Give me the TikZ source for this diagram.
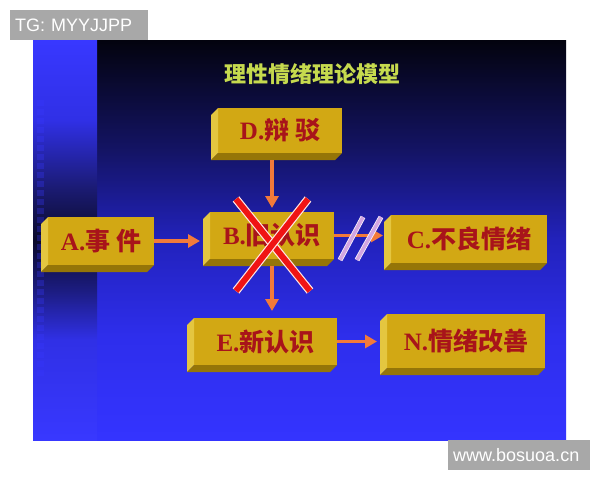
\documentclass[tikz,border=0pt]{standalone}
\usepackage{fontspec}
\setmainfont{Liberation Serif}
\newfontfamily\cjk{Noto Sans CJK SC}
\newfontfamily\wmfont{Liberation Sans}
\usetikzlibrary{arrows.meta}

\definecolor{gold}{HTML}{D2A814}
\definecolor{goldlight}{HTML}{E4C640}
\definecolor{golddark}{HTML}{957508}
\definecolor{txtred}{HTML}{A8141A}
\definecolor{arrorange}{HTML}{F27A3A}
\definecolor{titlegreen}{HTML}{C6DA4E}
\definecolor{wmgray}{HTML}{A8A8A8}
\definecolor{slashpink}{HTML}{D2A6E2}
\definecolor{xred}{HTML}{F01414}
\definecolor{bgbot}{HTML}{3434FF}
\definecolor{bgmida}{HTML}{2E2EEC}
\definecolor{bgmidb}{HTML}{2222BC}
\definecolor{bgmidc}{HTML}{141466}
\definecolor{bgtop}{HTML}{03030E}
\definecolor{stripa}{HTML}{3838FF}
\definecolor{stripb}{HTML}{3030E6}
\definecolor{stripc}{HTML}{1C1C80}
\definecolor{stripd}{HTML}{0A0A2A}
\definecolor{stripe}{HTML}{1A1A70}

\pgfdeclareverticalshading{slidemain}{100bp}{color(0bp)=(bgbot); color(25bp)=(bgbot); color(38bp)=(bgmida); color(50bp)=(bgmidb); color(61bp)=(bgmidc); color(75bp)=(bgtop); color(100bp)=(bgtop)}
\pgfdeclareverticalshading{slidestrip}{100bp}{color(0bp)=(stripa); color(25bp)=(stripa); color(37.5bp)=(stripb); color(43.75bp)=(stripc); color(50bp)=(stripd); color(56.25bp)=(stripe); color(65bp)=(stripb); color(75bp)=(stripa); color(100bp)=(stripa)}

\begin{document}
\begin{tikzpicture}[x=1pt,y=-1pt,
  box/.style={fill=gold,inner sep=0pt,outer sep=0pt,text=txtred,
    font=\fontsize{25}{25}\selectfont\bfseries},
  arr/.style={draw=arrorange,line width=3.5pt,-{Triangle[length=12pt,width=13pt]}},
  xmark/.style={draw=pink!40!white,line width=1.2pt,double=xred,double distance=6pt},
  slash/.style={draw=white!85!slashpink,line width=0.8pt,double=slashpink,double distance=3.5pt},
  wm/.style={fill=wmgray,text=white,inner xsep=5pt,inner ysep=0pt,minimum height=30pt,
    font=\wmfont\fontsize{18}{18}\selectfont}]
\useasboundingbox (0,0) rectangle (600,480);
\fill[white] (0,0) rectangle (600,480);

\shade[shading=slidemain] (33,40) rectangle (566,440);
\shade[shading=slidestrip] (33,40) rectangle (97,440);
\foreach \y in {100,109,...,370}
  \fill[stripa,opacity=0.3] (37,\y) rectangle ++(7,6);

\node[text=titlegreen,font=\cjk\fontsize{22}{22}\selectfont\bfseries] (title) at (312,74) {理性情绪理论模型};

\node[box,minimum width=124pt,minimum height=45pt] (D) at (280,130.5) {D.\cjk 辩 驳};
\node[box,minimum width=106pt,minimum height=48pt] (A) at (101,241) {A.\cjk 事 件};
\node[box,minimum width=124pt,minimum height=47pt] (B) at (272,235.5) {B.\cjk 旧认识};
\node[box,minimum width=156pt,minimum height=48pt] (C) at (469,239) {C.\cjk 不良情绪};
\node[box,minimum width=143pt,minimum height=47pt] (E) at (265.5,341.5) {E.\cjk 新认识};
\node[box,minimum width=158pt,minimum height=54pt] (N) at (466,341) {N.\cjk 情绪改善};

\fill[goldlight] (D.north west) -- ++(-7,7) -- ([shift={(-7,7)}]D.south west) -- (D.south west) -- cycle;
\fill[golddark] (D.south west) -- ++(-7,7) -- ([shift={(-7,7)}]D.south east) -- (D.south east) -- cycle;
\fill[goldlight] (A.north west) -- ++(-7,7) -- ([shift={(-7,7)}]A.south west) -- (A.south west) -- cycle;
\fill[golddark] (A.south west) -- ++(-7,7) -- ([shift={(-7,7)}]A.south east) -- (A.south east) -- cycle;
\fill[goldlight] (B.north west) -- ++(-7,7) -- ([shift={(-7,7)}]B.south west) -- (B.south west) -- cycle;
\fill[golddark] (B.south west) -- ++(-7,7) -- ([shift={(-7,7)}]B.south east) -- (B.south east) -- cycle;
\fill[goldlight] (C.north west) -- ++(-7,7) -- ([shift={(-7,7)}]C.south west) -- (C.south west) -- cycle;
\fill[golddark] (C.south west) -- ++(-7,7) -- ([shift={(-7,7)}]C.south east) -- (C.south east) -- cycle;
\fill[goldlight] (E.north west) -- ++(-7,7) -- ([shift={(-7,7)}]E.south west) -- (E.south west) -- cycle;
\fill[golddark] (E.south west) -- ++(-7,7) -- ([shift={(-7,7)}]E.south east) -- (E.south east) -- cycle;
\fill[goldlight] (N.north west) -- ++(-7,7) -- ([shift={(-7,7)}]N.south west) -- (N.south west) -- cycle;
\fill[golddark] (N.south west) -- ++(-7,7) -- ([shift={(-7,7)}]N.south east) -- (N.south east) -- cycle;

\draw[arr,shorten <=7pt,shorten >=4pt] (D.south -| B.north) -- (B.north);
\draw[arr,shorten >=10pt] (A.east) -- (A.east -| B.west);
\draw[arr,shorten >=8pt] (B.east) -- (B.east -| C.west);
\draw[arr,shorten <=7pt,shorten >=7pt] (B.south) -- (B.south |- E.north);
\draw[arr,shorten >=10pt] (E.east) -- (E.east -| N.west);

\draw[slash] (363,217) -- (340,260);
\draw[slash] (381,217) -- (357,260);
\draw[xmark] (236,199) -- (310,291);
\draw[xmark] (308,199) -- (236,291);

\node[wm,anchor=north west,text width=128pt] (tg) at (10,10) {TG: MYYJJPP};
\node[wm,anchor=north west,text width=132pt] (site) at (448,440) {www.bosuoa.cn};
\end{tikzpicture}
\end{document}
